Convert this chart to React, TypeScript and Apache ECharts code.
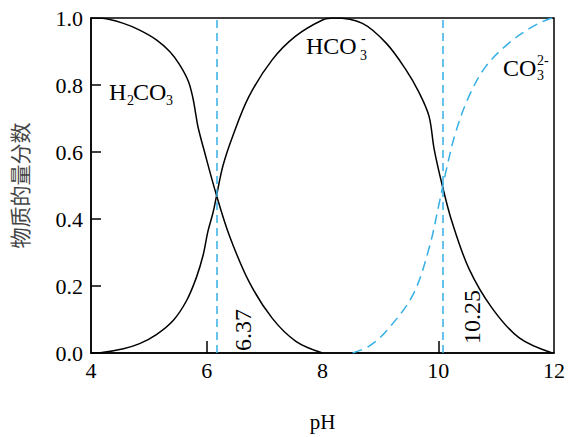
import React, { useEffect, useRef } from 'react';
import * as echarts from 'echarts';

// ---- data ----
const xTickValues = [4, 6, 8, 10, 12];
const xInnerTicks = [6, 10];
const yInnerTicks = [0.2, 0.4, 0.6, 0.8];

const h2co3PH = [4.0, 4.2, 4.56, 4.84, 5.13, 5.36, 5.53, 5.68, 5.76, 5.81, 5.85, 5.94, 6.17, 6.39, 6.73, 7.13, 7.54, 8.0];
const h2co3Frac = [1.0, 0.999, 0.984, 0.964, 0.935, 0.9, 0.861, 0.812, 0.762, 0.713, 0.674, 0.614, 0.47, 0.351, 0.213, 0.104, 0.035, 0.0];

const hco3PH = [4.0, 4.16, 4.56, 4.84, 5.13, 5.42, 5.65, 5.82, 5.94, 6.02, 6.11, 6.17, 6.28, 6.45, 6.73, 7.13, 7.53, 8.0, 8.2, 8.69, 9.1, 9.44, 9.67, 9.84, 9.93, 10.07, 10.24, 10.53, 10.93, 11.4, 11.97];
const hco3Frac = [0.0, 0.001, 0.013, 0.028, 0.055, 0.097, 0.156, 0.225, 0.294, 0.363, 0.42, 0.47, 0.559, 0.648, 0.766, 0.875, 0.945, 0.994, 1.0, 0.984, 0.925, 0.846, 0.777, 0.707, 0.608, 0.5, 0.39, 0.252, 0.134, 0.045, 0.0];

const co3PH = [8.52, 8.8, 9.1, 9.56, 9.84, 10.02, 10.13, 10.3, 10.53, 10.82, 11.22, 11.63, 11.91, 12.0];
const co3Frac = [0.0, 0.02, 0.065, 0.173, 0.312, 0.45, 0.54, 0.658, 0.766, 0.855, 0.925, 0.974, 0.997, 1.0];

const markerPH = [6.18, 10.08];
const markerLabels = ['6.37', '10.25'];

const speciesNames = ['H2CO3', 'HCO3-', 'CO32-'];

const BLUE = '#35b0e6';
const SERIF = '"Liberation Serif", "Times New Roman", serif';

export default function App() {
  const ref = useRef<HTMLDivElement>(null);

  useEffect(() => {
    if (!ref.current) return;
    const chart = echarts.init(ref.current, null, { renderer: 'svg' });
    const pair = (xs: number[], ys: number[]) => xs.map((x, i) => [x, ys[i]]);
    const txt = (text: string, x: number, y: number, size: number, extra: any = {}) => ({
      type: 'text',
      x,
      y,
      ...extra,
      style: {
        text,
        fontSize: size,
        fontFamily: SERIF,
        fill: '#000',
        align: 'left',
        verticalAlign: 'middle',
        ...(extra.style || {}),
      },
    });

    chart.setOption({
      animation: false,
      grid: {
        left: 91,
        top: 18,
        width: 464,
        height: 337,
        show: true,
        borderColor: '#000',
        borderWidth: 1.5,
        backgroundColor: 'transparent',
      },
      xAxis: {
        type: 'value',
        min: 4,
        max: 12,
        interval: 2,
        name: 'pH',
        nameLocation: 'middle',
        nameGap: 58,
        nameTextStyle: { fontFamily: SERIF, fontSize: 21, color: '#000' },
        axisLine: { show: true, lineStyle: { color: '#000', width: 1.5 } },
        axisTick: {
          show: true,
          inside: true,
          length: 12,
          customValues: xInnerTicks,
          lineStyle: { color: '#000', width: 1.5 },
        },
        axisLabel: {
          fontFamily: SERIF,
          fontSize: 22,
          color: '#000',
          margin: 6,
          customValues: xTickValues,
        },
        splitLine: { show: false },
      },
      yAxis: {
        type: 'value',
        min: 0,
        max: 1,
        interval: 0.2,
        name: '物质的量分数',
        nameLocation: 'middle',
        nameGap: 62,
        nameTextStyle: { fontFamily: '"Noto Sans CJK SC", sans-serif', fontSize: 21, color: '#444' },
        axisLine: { show: true, lineStyle: { color: '#000', width: 1.5 } },
        axisTick: {
          show: true,
          inside: true,
          length: 10,
          customValues: yInnerTicks,
          lineStyle: { color: '#000', width: 1.5 },
        },
        axisLabel: {
          fontFamily: SERIF,
          fontSize: 22,
          color: '#000',
          margin: 8,
          formatter: (v: number) => v.toFixed(1),
        },
        splitLine: { show: false },
      },
      series: [
        {
          name: speciesNames[0],
          type: 'line',
          data: pair(h2co3PH, h2co3Frac),
          smooth: 0.35,
          showSymbol: false,
          lineStyle: { color: '#000', width: 1.5 },
          markLine: {
            silent: true,
            symbol: ['none', 'none'],
            label: { show: false },
            lineStyle: { color: BLUE, type: [8, 5], width: 1.5 },
            data: markerPH.map((v) => ({ xAxis: v })),
          },
        },
        {
          name: speciesNames[1],
          type: 'line',
          data: pair(hco3PH, hco3Frac),
          smooth: 0.35,
          showSymbol: false,
          lineStyle: { color: '#000', width: 1.5 },
        },
        {
          name: speciesNames[2],
          type: 'line',
          data: pair(co3PH, co3Frac),
          smooth: 0.35,
          showSymbol: false,
          lineStyle: { color: BLUE, width: 1.5, type: [10, 6] },
        },
      ],
      graphic: [
        // H2CO3
        txt('H', 109, 92, 24),
        txt('2', 127, 100, 14),
        txt('CO', 133, 92, 24),
        txt('3', 166, 100, 14),
        // HCO3-
        txt('HCO', 306, 46, 24),
        txt('-', 361, 38, 14),
        txt('3', 360, 55, 14),
        // CO3 2-
        txt('CO', 503, 68, 24),
        txt('2-', 537, 60, 14),
        txt('3', 537, 75, 14),
        // pKa labels
        txt(markerLabels[0], 243, 330, 24, { rotation: Math.PI / 2, style: { align: 'center' } }),
        txt(markerLabels[1], 472, 317, 24, { rotation: Math.PI / 2, style: { align: 'center' } }),
      ],
    });

    return () => chart.dispose();
  }, []);

  return (
    <div
      ref={ref}
      style={{ position: 'fixed', left: 0, top: 0, width: 568, height: 437, background: '#fff' }}
    />
  );
}
